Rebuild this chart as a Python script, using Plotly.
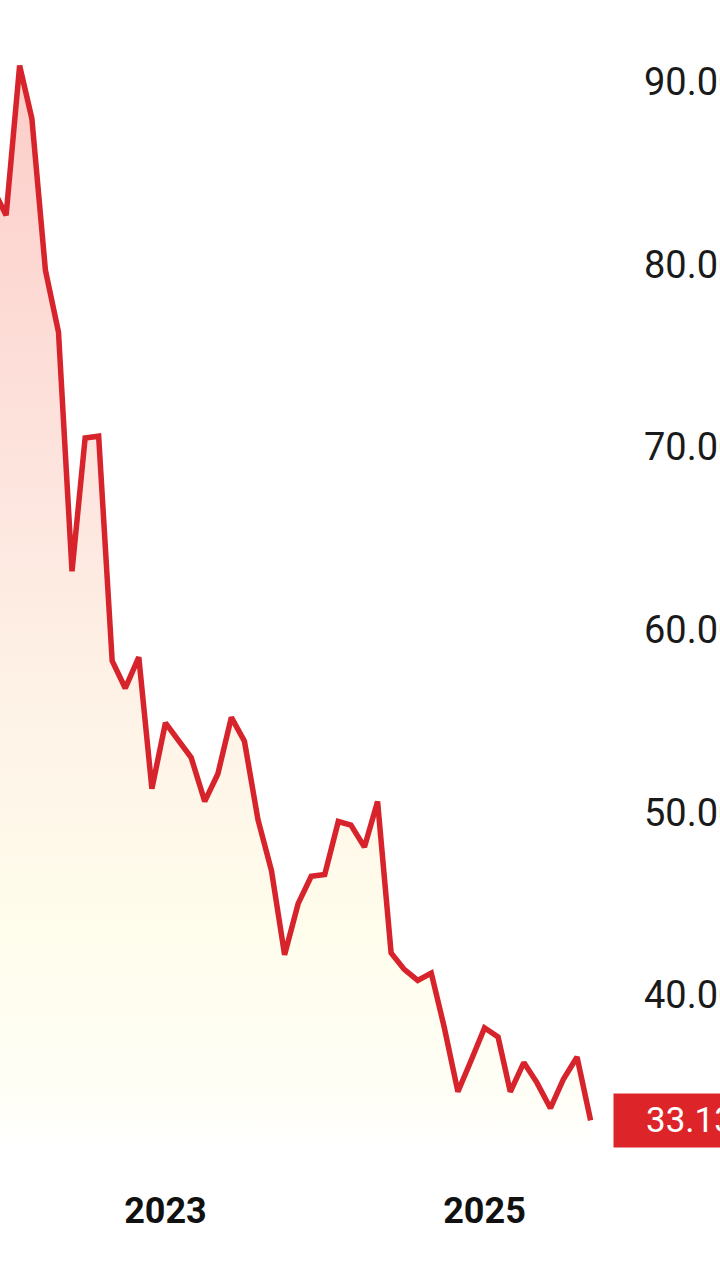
import plotly.graph_objects as go
import pandas as pd

# Monthly closing values, Dec 2021 .. Sep 2025
dates = pd.date_range("2021-12-01", "2025-09-01", freq="MS")
values = [
    84.2, 82.7, 90.9, 88.0, 79.7, 76.3, 63.2, 70.5, 70.6, 58.3, 56.8, 58.5,
    51.3, 54.9, 53.9, 53.0, 50.6, 52.1, 55.2, 53.9, 49.6, 46.8, 42.2, 45.0,
    46.5, 46.6, 49.5, 49.3, 48.1, 50.6, 42.3, 41.4, 40.8, 41.2, 38.2, 34.7,
    36.4, 38.2, 37.7, 34.7, 36.3, 35.2, 33.8, 35.4, 36.6, 33.13,
]
y_ticks = [40, 50, 60, 70, 80, 90]
x_ticks = ["2023-01-01", "2025-01-01"]

LINE = "#d7232b"

fig = go.Figure()
fig.add_trace(go.Scatter(
    x=dates, y=values, mode="lines",
    line=dict(color=LINE, width=5.5),
    fill="tozeroy",
    fillgradient=dict(
        type="vertical",
        start=31.5, stop=91.0,
        colorscale=[
            [0.0, "#ffffff"],
            [0.05, "#fffef6"],
            [0.2, "#fffdec"],
            [0.4, "#fef3e7"],
            [0.6, "#fde6df"],
            [0.85, "#fdd6d1"],
            [1.0, "#fccdc7"],
        ],
    ),
    hoverinfo="skip",
    showlegend=False,
))

fig.add_annotation(
    x=1.0 + 8 / 605, xref="paper", xanchor="left",
    y=values[-1], yref="y", yanchor="middle",
    text=f"{values[-1]:.2f}", showarrow=False,
    width=150, height=51, align="center",
    bgcolor="#dc2429", font=dict(color="white", size=35, family="Roboto"),
)

fig.update_layout(
    width=720, height=1280,
    margin=dict(l=0, r=115, t=0, b=130, autoexpand=False),
    paper_bgcolor="white", plot_bgcolor="white",
    font=dict(family="Roboto", color="#1a1a1a"),
    hovermode=False,
    xaxis=dict(
        range=["2021-12-18", "2025-10-04"],
        tickvals=x_ticks, tickformat="%Y",
        tickfont=dict(size=36, family="Roboto", weight="bold", color="#111"),
        showgrid=False, zeroline=False, showline=False,
        ticklabelstandoff=36, automargin=False,
    ),
    yaxis=dict(
        side="right",
        range=[31.51, 94.49],
        tickvals=y_ticks, tickformat=".2f",
        tickfont=dict(size=38, family="Roboto", color="#1a1a1a"),
        showgrid=False, zeroline=False, showline=False,
        ticklabelstandoff=38, automargin=False,
    ),
)

fig.write_html(
    "out.html",
    config={"displayModeBar": False},
    post_script="document.body.style.margin='0';document.body.style.overflow='hidden';",
)
